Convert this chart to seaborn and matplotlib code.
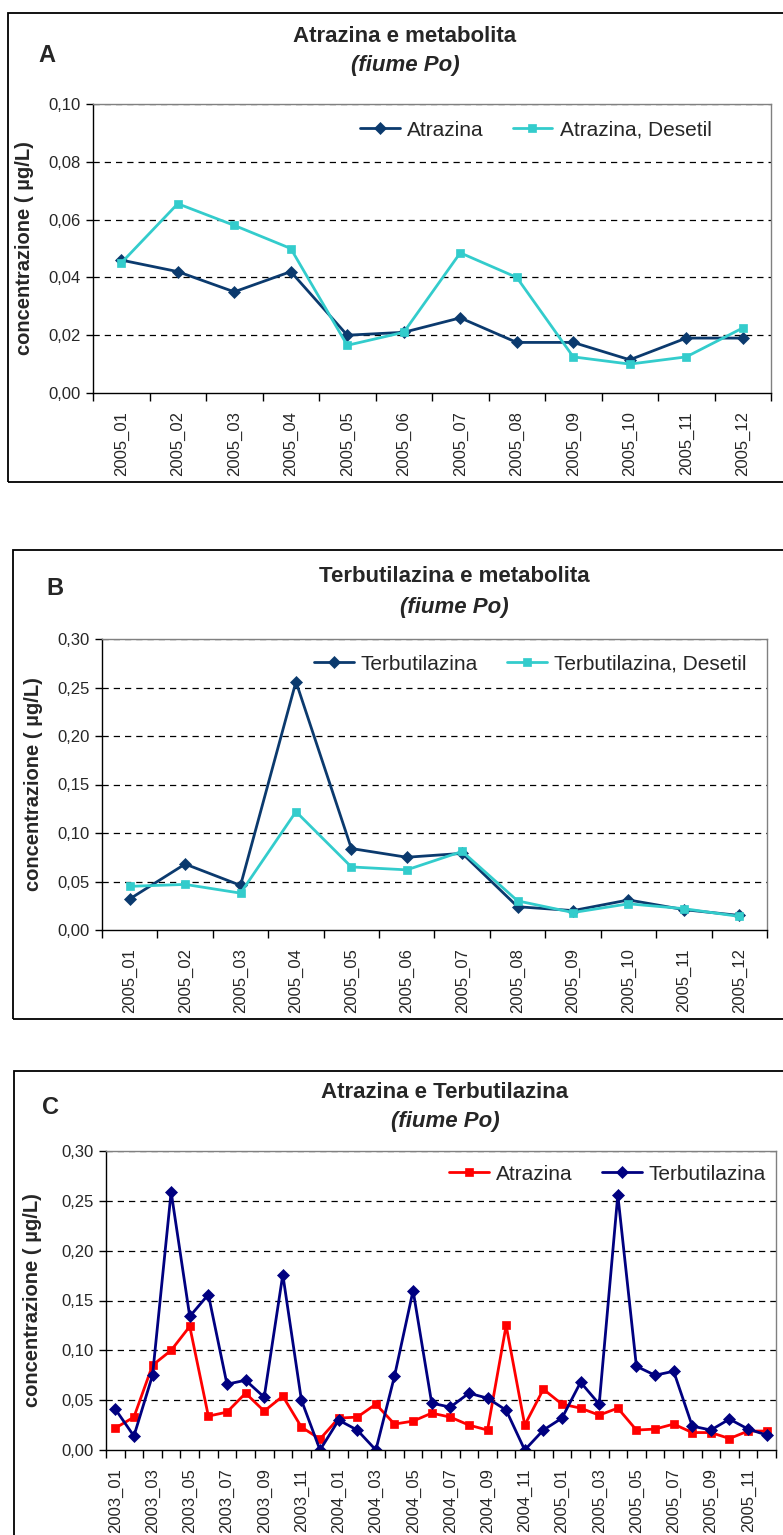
import numpy as np
import pandas as pd
import matplotlib
matplotlib.use("Agg")
import matplotlib.pyplot as plt
from matplotlib.patches import Rectangle
import seaborn as sns

# --- data ---
months_2005 = ["2005_%02d" % m for m in range(1, 13)]
months_all = ["%d_%02d" % (y, m) for y in (2003, 2004, 2005) for m in range(1, 13)]

# panel A
atrazina_2005 = [0.046, 0.042, 0.035, 0.042, 0.020, 0.021, 0.026, 0.0175, 0.0175, 0.0115, 0.019, 0.019]
atrazina_desetil_2005 = [0.045, 0.0655, 0.058, 0.050, 0.0165, 0.021, 0.0485, 0.040, 0.0125, 0.010, 0.0125, 0.0225]

# panel B
terbutilazina_2005 = [0.032, 0.068, 0.046, 0.256, 0.084, 0.075, 0.079, 0.024, 0.020, 0.031, 0.021, 0.015]
terbutilazina_desetil_2005 = [0.045, 0.047, 0.038, 0.122, 0.065, 0.062, 0.081, 0.030, 0.018, 0.027, 0.022, 0.014]

# panel C (2003_01 .. 2005_12)
atrazina_all = [0.022, 0.033, 0.085, 0.100, 0.124, 0.034, 0.038, 0.057, 0.039, 0.054, 0.023, 0.011,
                0.032, 0.033, 0.046, 0.026, 0.029, 0.037, 0.033, 0.025, 0.020, 0.125, 0.025, 0.061,
                0.046, 0.042, 0.035, 0.042, 0.020, 0.021, 0.026, 0.0175, 0.0175, 0.0115, 0.019, 0.019]
terbutilazina_all = [0.041, 0.014, 0.075, 0.259, 0.134, 0.156, 0.066, 0.070, 0.053, 0.176, 0.050, 0.000,
                     0.030, 0.020, 0.000, 0.074, 0.160, 0.047, 0.043, 0.057, 0.052, 0.040, 0.000, 0.020,
                     0.032, 0.068, 0.046, 0.256, 0.084, 0.075, 0.079, 0.024, 0.020, 0.031, 0.021, 0.015]

NAVY = "#0B3A6E"
NAVY_C = "#000080"
CYAN = "#33CCCC"
RED = "#FF0000"

sns.set_style("ticks")
plt.rcParams["font.family"] = ["Liberation Sans", "DejaVu Sans"]

fig = plt.figure(figsize=(7.83, 15.35), dpi=100)


def comma(v):
    return ("%.2f" % v).replace(".", ",")


def draw_panel(ax, cats, series, ymax, ystep, label_every, legend_anchor, ylabel_x):
    n = len(cats)
    x = np.arange(n)
    for name, vals, color, marker, ms in series:
        sns.lineplot(x=x, y=vals, ax=ax, color=color, marker=marker, markersize=ms,
                     markeredgecolor=color, markeredgewidth=0.5, linewidth=2.0, label=name)
    ax.set_xlim(-0.5, n - 0.5)
    ax.set_ylim(0, ymax)
    yt = np.arange(0, ymax + ystep / 2, ystep)
    ax.set_yticks(yt)
    ax.set_yticklabels([comma(v) for v in yt], fontsize=12)
    for v in yt[1:]:
        ax.axhline(v, color="black", lw=0.9, ls=(0, (5, 4)), zorder=0)
    ax.set_xticks(x[::label_every])
    ax.set_xticklabels(cats[::label_every], rotation=90, fontsize=12)
    ax.set_xticks(np.arange(n + 1) - 0.5, minor=True)
    ax.tick_params(axis="x", which="major", length=0, pad=13)
    ax.tick_params(axis="x", which="minor", length=6, width=1, color="black", direction="out")
    ax.tick_params(axis="y", length=5, width=1, color="black", pad=4, direction="out")
    for s in ("left", "bottom"):
        ax.spines[s].set_color("black")
        ax.spines[s].set_linewidth(1.0)
    for s in ("top", "right"):
        ax.spines[s].set_visible(True)
        ax.spines[s].set_color("#808080")
        ax.spines[s].set_linewidth(1.0)
    ax.set_xlabel("")
    ax.set_ylabel("concentrazione ( \u00b5g/L)", fontsize=14.5, fontweight="bold")
    ax.yaxis.set_label_coords(ylabel_x, 0.5)
    ax.legend(loc="center", bbox_to_anchor=legend_anchor, ncol=2, frameon=False, fontsize=15,
              handlelength=1.9, handletextpad=0.35, columnspacing=1.4, borderpad=0)


def frame_and_titles(y_top, y_bot, x_left, title, title_x, t1_y, t2_y, letter, lx, ly):
    H = 1535.0
    W = 783.0
    fig.add_artist(Rectangle((x_left / W, 1 - y_bot / H), 1.2, (y_bot - y_top) / H,
                             transform=fig.transFigure, fill=False, ec="black", lw=1.3))
    fig.text(title_x / W, 1 - t1_y / H, title, ha="center", va="center",
             fontsize=16, fontweight="bold")
    fig.text(title_x / W, 1 - t2_y / H, "(fiume Po)", ha="center", va="center",
             fontsize=16, fontweight="bold", style="italic")
    fig.text(lx / W, 1 - ly / H, letter, ha="center", va="center", fontsize=17, fontweight="bold")


# panel A
axA = fig.add_axes([93 / 783, 1 - 393 / 1535, 678 / 783, 289 / 1535])
draw_panel(axA, months_2005,
           [("Atrazina", atrazina_2005, NAVY, "D", 6),
            ("Atrazina, Desetil", atrazina_desetil_2005, CYAN, "s", 6)],
           0.10, 0.02, 1, (0.653, 0.91), -0.087)
frame_and_titles(12.5, 482, 8, "Atrazina e metabolita", 405, 36, 66, "A", 47, 55)

# panel B
axB = fig.add_axes([102 / 783, 1 - 930 / 1535, 665 / 783, 291 / 1535])
draw_panel(axB, months_2005,
           [("Terbutilazina", terbutilazina_2005, NAVY, "D", 6),
            ("Terbutilazina, Desetil", terbutilazina_desetil_2005, CYAN, "s", 6)],
           0.30, 0.05, 1, (0.644, 0.914), -0.089)
frame_and_titles(550, 1019, 13, "Terbutilazina e metabolita", 454, 577, 607, "B", 55, 588)

# panel C
axC = fig.add_axes([106 / 783, 1 - 1450 / 1535, 670 / 783, 299 / 1535])
draw_panel(axC, months_all,
           [("Atrazina", atrazina_all, RED, "s", 6),
            ("Terbutilazina", terbutilazina_all, NAVY_C, "D", 6)],
           0.30, 0.05, 2, (0.749, 0.923), -0.095)
frame_and_titles(1071, 1700, 14, "Atrazina e Terbutilazina", 445, 1092, 1122, "C", 51, 1107)

fig.savefig("out.png", dpi=100)
